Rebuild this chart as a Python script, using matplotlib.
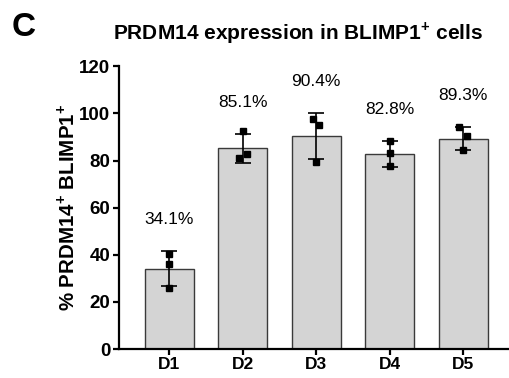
import numpy as np
import matplotlib
matplotlib.use("Agg")
import matplotlib.pyplot as plt

# ==============================
# DATA
# ==============================

days = ["D1", "D2", "D3", "D4", "D5"]
means = [34.1, 85.1, 90.4, 82.8, 89.3]
pct_labels = ["34.1%", "85.1%", "90.4%", "82.8%", "89.3%"]

# replicate values per day
replicates = [
    [40.3, 36.0, 25.8],
    [92.4, 81.2, 82.6],
    [97.5, 94.9, 79.5],
    [88.3, 83.2, 77.5],
    [94.2, 90.4, 84.5],
]

# small horizontal jitter of the dots
jitter = [
    [0.0, 0.0, 0.0],
    [0.0, -0.055, 0.055],
    [-0.05, 0.04, 0.0],
    [0.0, 0.0, 0.0],
    [-0.05, 0.06, 0.0],
]

# ==============================
# STYLE
# ==============================

plt.rcParams["font.family"] = ["Liberation Sans", "DejaVu Sans"]
plt.rcParams["mathtext.fontset"] = "custom"
plt.rcParams["mathtext.rm"] = "Liberation Sans"
plt.rcParams["mathtext.bf"] = "Liberation Sans:bold"

fig = plt.figure(figsize=(5.10, 3.78), dpi=100)
ax = fig.add_axes([0.233, 0.0767, 0.767, 0.748])

x = np.arange(len(days))
sds = [np.std(r, ddof=1) for r in replicates]

ax.bar(x, means, width=0.667, color="#d4d4d4", edgecolor="#3a3a3a",
       linewidth=1.0, zorder=1)
ax.errorbar(x, means, yerr=sds, fmt="none", ecolor="black",
            elinewidth=1.2, capsize=6, capthick=1.2, zorder=2)

for i, vals in enumerate(replicates):
    ax.plot(x[i] + np.array(jitter[i]), vals, "s", color="black",
            markersize=4.5, zorder=3)
    ax.text(x[i], means[i] + sds[i] + 13.5, pct_labels[i],
            ha="center", va="center", fontsize=12.5)

ax.set_xlim(-0.69, 4.64)
ax.set_ylim(0, 120)
ax.set_yticks(range(0, 121, 20))
ax.set_xticks(x)
ax.set_xticklabels(days)

for lab in ax.get_yticklabels():
    lab.set_fontweight("bold")
    lab.set_fontsize(13.5)
for lab in ax.get_xticklabels():
    lab.set_fontweight("bold")
    lab.set_fontsize(12.5)

ax.spines["top"].set_visible(False)
ax.spines["right"].set_visible(False)
ax.spines["left"].set_linewidth(1.6)
ax.spines["bottom"].set_linewidth(1.6)
ax.tick_params(width=1.6, length=4, pad=2)

ax.set_ylabel(r"% PRDM14$^{\mathbf{+}}$ BLIMP1$^{\mathbf{+}}$",
              fontsize=14.8, fontweight="bold", labelpad=1)

fig.text(0.584, 0.913, r"PRDM14 expression in BLIMP1$^{\mathbf{+}}$ cells",
         ha="center", va="center", fontsize=15, fontweight="bold")
fig.text(0.047, 0.927, "C", ha="center", va="center",
         fontsize=24, fontweight="bold")

fig.savefig("out.png", dpi=100)
